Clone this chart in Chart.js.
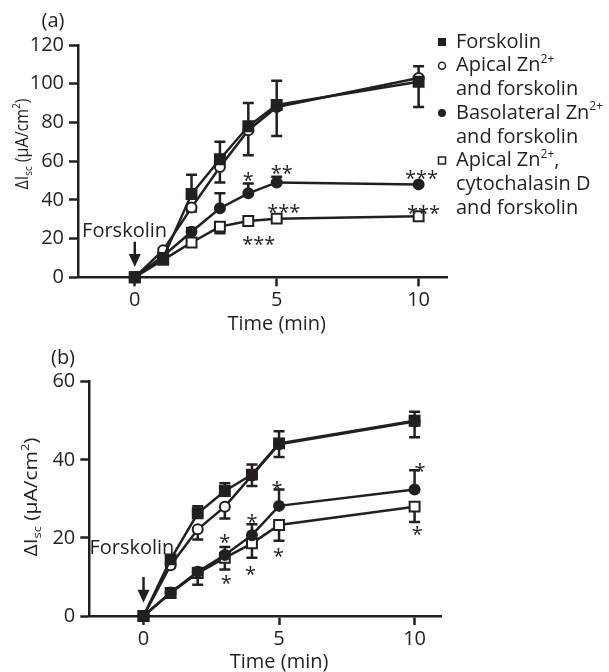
<!DOCTYPE html>
<html>
<head>
<meta charset="utf-8">
<script src="https://cdn.jsdelivr.net/npm/chart.js@4.4.0/dist/chart.umd.min.js"></script>
<style>
html, body { margin: 0; padding: 0; background: #fff; }
#wrap { position: relative; width: 609px; height: 672px; }
.box { position: absolute; left: 0; width: 609px; }
#boxA { top: 0; height: 335px; }
#boxB { top: 335px; height: 337px; }
</style>
</head>
<body>
<div id="wrap">
  <div class="box" id="boxA"><canvas id="chartA"></canvas></div>
  <div class="box" id="boxB"><canvas id="chartB"></canvas></div>
</div>
<script>
const times = [0, 1, 2, 3, 4, 5, 10];
const xTickValues = [0, 5, 10];
const seriesLabels = ['Forskolin', 'Apical Zn2+ and forskolin', 'Basolateral Zn2+ and forskolin', 'Apical Zn2+, cytochalasin D and forskolin'];

// panel (a): means and error (one-sided, as in the figure)
const aForskolin = [0, 10, 43, 61, 78, 89, 101];
const aForskolinErr = [0, 1, 10, 9, 12, 12.5, 8];
const aApical = [0, 14, 36, 57, 76, 88, 103];
const aApicalErr = [0, 1, 2, 8, 13, 15, 15];
const aBaso = [0, 11, 23.5, 35.7, 43.4, 49, 48];
const aBasoErr = [0, 1, 2, 7.7, 5, 3, 0];
const aCyto = [0, 9, 18, 26.2, 29.1, 30.3, 31.5];
const aCytoErr = [0, 1, 1, 3.5, 2, 1.5, 2];
const aYTicks = [0, 20, 40, 60, 80, 100, 120];

// panel (b)
const bForskolin = [0, 14.5, 26.3, 32, 36.2, 44.2, 50];
const bForskolinErr = [0, 0.5, 1.8, 2, 2.6, 3.1, 2.3];
const bApical = [0, 13, 22.2, 28, 36, 44, 49.8];
const bApicalErr = [0, 0.5, 2.6, 3, 2.7, 3.3, 4];
const bBaso = [0, 6, 11.3, 15.6, 20.7, 28.2, 32.4];
const bBasoErr = [0, 0.5, 1, 2.1, 2.8, 4.2, 4.9];
const bCyto = [0, 5.9, 11, 14.9, 18.6, 23.3, 28];
const bCytoErr = [0, 0.5, 3, 3, 3.7, 4, 3.9];
const bYTicks = [0, 20, 40, 60];

// significance marks: [time, value, text]
const aStars = [[4, 52.5, '*'], [4.37, 19.3, '***'], [5.18, 55.8, '**'], [5.25, 36, '***'], [10.1, 53.4, '***'], [10.17, 35.3, '***']];
const bStars = [[3, 19.9, '*'], [3.05, 9.4, '*'], [4, 25, '*'], [3.95, 11.9, '*'], [4.92, 33.5, '*'], [4.98, 16.4, '*'], [10.2, 38.2, '*'], [10.1, 22, '*']];

const ink = '#231f20';
const FONT = '"Open Sans", sans-serif';

function fontFor(mode, size) {
  return (mode ? Math.round(size * 0.6) : size) + 'px ' + FONT;
}
function richWidth(ctx, parts, size) {
  let w = 0;
  parts.forEach(([t, m]) => { ctx.font = fontFor(m, size); w += ctx.measureText(t).width; });
  return w;
}
function drawRich(ctx, parts, x, y, size) {
  let cx = x;
  ctx.textBaseline = 'middle';
  ctx.textAlign = 'left';
  parts.forEach(([t, m]) => {
    ctx.font = fontFor(m, size);
    const dy = m === 'sup' ? -size * 0.32 : m === 'sub' ? size * 0.3 : 0;
    ctx.fillText(t, cx, y + dy);
    cx += ctx.measureText(t).width;
  });
}

const yTitleParts = [['ΔI', ''], ['sc', 'sub'], [' (μA/cm', ''], ['2', 'sup'], [')', '']];

function decor(p) {
  return {
    id: 'decor',
    beforeDatasetsDraw(chart) {
      const { ctx, scales: { x, y } } = chart;
      ctx.save();
      ctx.strokeStyle = ink;
      ctx.lineWidth = 2.5;
      p.series.forEach(s => {
        s.vals.forEach((v, i) => {
          const e = s.err[i];
          if (!e) return;
          const px = x.getPixelForValue(times[i]);
          const y0 = y.getPixelForValue(v), y1 = y.getPixelForValue(v + s.dir * e);
          ctx.beginPath();
          ctx.moveTo(px, y0); ctx.lineTo(px, y1);
          ctx.moveTo(px - 5.5, y1); ctx.lineTo(px + 5.5, y1);
          ctx.stroke();
        });
      });
      ctx.restore();
    },
    afterDraw(chart) {
      const { ctx, scales: { x, y } } = chart;
      ctx.save();
      ctx.fillStyle = ink;
      ctx.strokeStyle = ink;
      // asterisks
      ctx.font = '20px ' + FONT;
      ctx.textAlign = 'center';
      ctx.textBaseline = 'alphabetic';
      p.stars.forEach(([t, v, txt]) => {
        ctx.fillText(txt, x.getPixelForValue(t), y.getPixelForValue(v) + 11);
      });
      // forskolin arrow
      const a = p.arrow;
      ctx.font = '20px ' + FONT;
      ctx.textBaseline = 'middle';
      ctx.fillText('Forskolin', x.getPixelForValue(a.textX), y.getPixelForValue(a.textY));
      const ax = x.getPixelForValue(0);
      const yTop = y.getPixelForValue(a.from), yTip = y.getPixelForValue(a.to);
      ctx.lineWidth = 2.5;
      ctx.beginPath(); ctx.moveTo(ax, yTop); ctx.lineTo(ax, yTip - 10); ctx.stroke();
      ctx.beginPath(); ctx.moveTo(ax - 6, yTip - 13); ctx.lineTo(ax + 6, yTip - 13); ctx.lineTo(ax, yTip); ctx.closePath(); ctx.fill();
      // x title centred on t = 5
      ctx.font = '20px ' + FONT;
      ctx.textAlign = 'center';
      ctx.fillText('Time (min)', x.getPixelForValue(5), p.xTitleY);
      // panel label
      ctx.fillText(p.label, p.labelX, p.labelY);
      // y title
      ctx.save();
      ctx.translate(p.yTitle.x, p.yTitle.y);
      ctx.rotate(-Math.PI / 2);
      const w = richWidth(ctx, yTitleParts, 18);
      ctx.scale(p.yTitle.len / w, 1);
      drawRich(ctx, yTitleParts, -w / 2, 0, 18);
      ctx.restore();
      // legend
      if (p.legend) {
        const L = p.legend;
        L.lines.forEach((parts, i) => {
          drawRich(ctx, parts, L.textX, L.y0 + i * L.step, 20);
        });
        L.markers.forEach(([line, kind]) => {
          const my = L.y0 + line * L.step, mx = L.markX;
          ctx.lineWidth = 1.5;
          ctx.beginPath();
          if (kind === 'sq') { ctx.fillRect(mx - 4, my - 4, 8, 8); }
          else if (kind === 'osq') { ctx.strokeRect(mx - 3.5, my - 3.5, 7, 7); }
          else if (kind === 'dot') { ctx.arc(mx, my, 4, 0, Math.PI * 2); ctx.fill(); }
          else { ctx.arc(mx, my, 3.5, 0, Math.PI * 2); ctx.stroke(); }
        });
      }
      ctx.restore();
    }
  };
}

function makeDatasets(f, ap, ba, cy) {
  const pts = vals => vals.map((v, i) => ({ x: times[i], y: v }));
  const base = { borderColor: ink, borderWidth: 2.5, pointBorderColor: ink, pointBorderWidth: 2, clip: false, tension: 0 };
  return [
    Object.assign({ label: seriesLabels[0], data: pts(f), pointStyle: 'rect', pointRadius: 7, backgroundColor: ink }, base),
    Object.assign({ label: seriesLabels[1], data: pts(ap), pointStyle: 'circle', pointRadius: 5, backgroundColor: '#fff' }, base),
    Object.assign({ label: seriesLabels[2], data: pts(ba), pointStyle: 'circle', pointRadius: 5, backgroundColor: ink }, base),
    Object.assign({ label: seriesLabels[3], data: pts(cy), pointStyle: 'rect', pointRadius: 7, backgroundColor: '#fff' }, base)
  ];
}

function makeChart(id, L) {
  const axisCommon = {
    border: { display: true, color: ink, width: 2.5 },
    grid: { drawOnChartArea: false, drawTicks: true, tickLength: 9, tickWidth: 2.5, tickColor: ink }
  };
  return new Chart(document.getElementById(id), {
    type: 'line',
    data: { datasets: L.datasets },
    options: {
      responsive: true,
      maintainAspectRatio: false,
      animation: false,
      layout: { padding: L.padding },
      plugins: { legend: { display: false }, tooltip: { enabled: false } },
      scales: {
        x: Object.assign({
          type: 'linear', min: -2, max: 11,
          afterBuildTicks: s => { s.ticks = xTickValues.map(v => ({ value: v })); },
          afterFit: s => { s.height = L.xHeight; },
          ticks: { color: ink, font: { family: FONT, size: 20 }, padding: 2 }
        }, axisCommon),
        y: Object.assign({
          min: L.yTicks[0], max: L.yTicks[L.yTicks.length - 1],
          afterBuildTicks: s => { s.ticks = L.yTicks.map(v => ({ value: v })); },
          afterFit: s => { s.width = L.yWidth; },
          ticks: { color: ink, font: { family: FONT, size: 20 }, padding: 5 }
        }, axisCommon)
      }
    },
    plugins: [decor(L.decor)]
  });
}

makeChart('chartA', {
  datasets: makeDatasets(aForskolin, aApical, aBaso, aCyto),
  padding: { top: 45, right: 162, left: 0, bottom: 0 },
  xHeight: 57.7, yWidth: 78, yTicks: aYTicks,
  decor: {
    series: [
      { vals: aForskolin, err: aForskolinErr, dir: 1 },
      { vals: aApical, err: aApicalErr, dir: -1 },
      { vals: aBaso, err: aBasoErr, dir: 1 },
      { vals: aCyto, err: aCytoErr, dir: -1 }
    ],
    stars: aStars,
    arrow: { textX: -0.36, textY: 23.6, from: 18.4, to: 5.3 },
    xTitleY: 324, label: '(a)', labelX: 53, labelY: 21,
    yTitle: { x: 23, y: 144, len: 91 },
    legend: {
      textX: 456, markX: 442, y0: 42, step: 23.7,
      lines: [
        [['Forskolin', '']],
        [['Apical Zn', ''], ['2+', 'sup']],
        [['and forskolin', '']],
        [['Basolateral Zn', ''], ['2+', 'sup']],
        [['and forskolin', '']],
        [['Apical Zn', ''], ['2+', 'sup'], [',', '']],
        [['cytochalasin D', '']],
        [['and forskolin', '']]
      ],
      markers: [[0, 'sq'], [1, 'circ'], [3, 'dot'], [5, 'osq']]
    }
  }
});

makeChart('chartB', {
  datasets: makeDatasets(bForskolin, bApical, bBaso, bCyto),
  padding: { top: 46.7, right: 167.3, left: 0, bottom: 0 },
  xHeight: 56, yWidth: 89.3, yTicks: bYTicks,
  decor: {
    series: [
      { vals: bForskolin, err: bForskolinErr, dir: 1 },
      { vals: bApical, err: bApicalErr, dir: -1 },
      { vals: bBaso, err: bBasoErr, dir: 1 },
      { vals: bCyto, err: bCytoErr, dir: -1 }
    ],
    stars: bStars,
    arrow: { textX: -0.43, textY: 17.4, from: 10, to: 3.4 },
    xTitleY: 327.7, label: '(b)', labelX: 63, labelY: 23,
    yTitle: { x: 32, y: 162, len: 119 },
    legend: null
  }
});
</script>
</body>
</html>
